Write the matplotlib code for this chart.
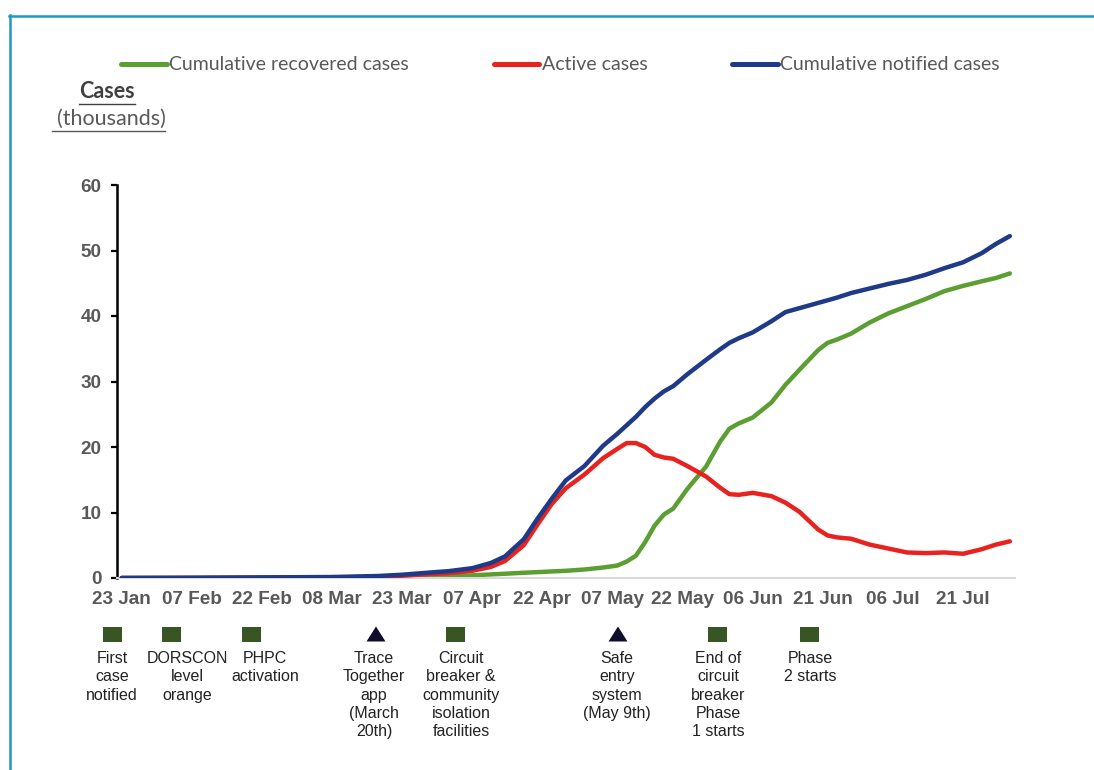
import datetime as dt

import matplotlib
matplotlib.use("Agg")
import matplotlib.pyplot as plt
import matplotlib.dates as mdates
from matplotlib.patches import Rectangle, Polygon
from matplotlib.lines import Line2D

# ---------------------------------------------------------------- data
dates = [
    "2020-01-23", "2020-02-07", "2020-02-22", "2020-03-08", "2020-03-18",
    "2020-03-23", "2020-03-29", "2020-04-02", "2020-04-07", "2020-04-11",
    "2020-04-14", "2020-04-18", "2020-04-21", "2020-04-24", "2020-04-27",
    "2020-05-01", "2020-05-05", "2020-05-08", "2020-05-10", "2020-05-12",
    "2020-05-14", "2020-05-16", "2020-05-18", "2020-05-20", "2020-05-23",
    "2020-05-27", "2020-05-30", "2020-06-01", "2020-06-03", "2020-06-06",
    "2020-06-10", "2020-06-13", "2020-06-16", "2020-06-20", "2020-06-22",
    "2020-06-24", "2020-06-27", "2020-07-01", "2020-07-05", "2020-07-09",
    "2020-07-13", "2020-07-17", "2020-07-21", "2020-07-25", "2020-07-28",
    "2020-07-31",
]

# thousands of cases
recovered = [
    0.0, 0.003, 0.04, 0.08, 0.12, 0.14, 0.2, 0.3, 0.4, 0.55,
    0.65, 0.8, 0.9, 1.0, 1.1, 1.3, 1.6, 1.9, 2.5, 3.4,
    5.5, 8.0, 9.7, 10.6, 13.6, 17.0, 20.8, 22.8, 23.6, 24.5,
    26.8, 29.5, 31.8, 34.8, 35.9, 36.4, 37.3, 39.0, 40.4, 41.5,
    42.6, 43.8, 44.6, 45.3, 45.8, 46.5,
]
active = [
    0.001, 0.02, 0.05, 0.07, 0.18, 0.35, 0.6, 0.75, 1.1, 1.7,
    2.6, 5.0, 8.2, 11.3, 13.7, 15.8, 18.3, 19.7, 20.6, 20.6,
    20.0, 18.8, 18.4, 18.2, 17.1, 15.5, 13.8, 12.8, 12.7, 13.0,
    12.5, 11.5, 10.1, 7.4, 6.5, 6.2, 6.0, 5.1, 4.5, 3.9,
    3.8, 3.9, 3.7, 4.4, 5.1, 5.6,
]
notified = [
    0.001, 0.03, 0.09, 0.15, 0.31, 0.5, 0.84, 1.05, 1.5, 2.3,
    3.3, 5.9, 9.1, 12.1, 14.9, 17.1, 20.2, 22.0, 23.3, 24.6,
    26.1, 27.4, 28.5, 29.3, 31.1, 33.3, 34.9, 35.9, 36.6, 37.5,
    39.2, 40.6, 41.2, 42.0, 42.4, 42.8, 43.5, 44.2, 44.9, 45.5,
    46.3, 47.3, 48.2, 49.6, 51.0, 52.2,
]

tick_dates = [
    "2020-01-23", "2020-02-07", "2020-02-22", "2020-03-08", "2020-03-23",
    "2020-04-07", "2020-04-22", "2020-05-07", "2020-05-22", "2020-06-06",
    "2020-06-21", "2020-07-06", "2020-07-21",
]
tick_labels = [
    "23 Jan", "07 Feb", "22 Feb", "08 Mar", "23 Mar", "07 Apr", "22 Apr",
    "07 May", "22 May", "06 Jun", "21 Jun", "06 Jul", "21 Jul",
]

series_names = ["Cumulative recovered cases", "Active cases",
                "Cumulative notified cases"]

event_labels = [
    "First\ncase\nnotified",
    "DORSCON\nlevel\norange",
    "PHPC\nactivation",
    "Trace\nTogether\napp\n(March\n20th)",
    "Circuit\nbreaker &\ncommunity\nisolation\nfacilities",
    "Safe\nentry\nsystem\n(May 9th)",
    "End of\ncircuit\nbreaker\nPhase\n1 starts",
    "Phase\n2 starts",
]
event_kinds = ["square", "square", "square", "triangle", "square",
               "triangle", "square", "square"]

# ---------------------------------------------------------------- layout
W, H = 1094, 770
fig = plt.figure(figsize=(W / 100, H / 100), dpi=100)
fig.patch.set_facecolor("white")


def fx(px):
    return px / W


def fy(py):
    return 1 - py / H


ARIAL = "Liberation Sans"
CALIBRI = "Lato"
GREY_TXT = "#595959"

ax = fig.add_axes([fx(117), fy(578), fx(1015) - fx(117), fy(185) - fy(578)])

x = [mdates.date2num(dt.datetime.strptime(d, "%Y-%m-%d")) for d in dates]
colors = ["#5B9E32", "#E8221E", "#1F3A86"]
for vals, col, name, z in zip([recovered, active, notified], colors,
                              series_names, [2, 3, 4]):
    ax.plot(x, vals, color=col, lw=3.2, label=name, zorder=z,
            solid_capstyle="round", solid_joinstyle="round")

start = mdates.date2num(dt.datetime(2020, 1, 23))
ax.set_xlim(start - 1.0, start + 191.1)
ax.set_ylim(0, 60)

ax.set_xticks([mdates.date2num(dt.datetime.strptime(d, "%Y-%m-%d"))
               for d in tick_dates])
ax.set_xticklabels(tick_labels)
ax.set_yticks(range(0, 61, 10))

for lab in ax.get_xticklabels() + ax.get_yticklabels():
    lab.set_fontfamily(ARIAL)
    lab.set_fontweight("bold")
    lab.set_color(GREY_TXT)
    lab.set_fontsize(13.6)

ax.tick_params(axis="x", length=0, pad=9)
ax.tick_params(axis="y", direction="out", length=4, width=1.6,
               color="black", pad=7)

for side in ("top", "right"):
    ax.spines[side].set_visible(False)
ax.spines["left"].set_color("black")
ax.spines["left"].set_linewidth(1.8)
ax.spines["bottom"].set_color("#D9D9D9")
ax.spines["bottom"].set_linewidth(1.5)
ax.set_facecolor("none")

# legend across the top
handles, labels = ax.get_legend_handles_labels()
leg = fig.legend(handles, labels, loc="center left",
                 bbox_to_anchor=(fx(121), fy(65)), ncol=3, frameon=False,
                 prop={"family": CALIBRI, "size": 14.0},
                 handlelength=2.35, handletextpad=0.13, columnspacing=4.35,
                 borderpad=0, borderaxespad=0)
for t in leg.get_texts():
    t.set_color(GREY_TXT)
for h in leg.get_lines():
    h.set_linewidth(3.6)
    h.set_solid_capstyle("round")

# axis title with underlines
t_cases = fig.text(fx(107), fy(92), "Cases", family=CALIBRI, weight="bold",
                   size=15.5, color="#404040", ha="center", va="center")
t_thou = fig.text(fx(111), fy(119), "(thousands)", family=CALIBRI,
                  size=15.5, color=GREY_TXT, ha="center", va="center")
fig.canvas.draw()
renderer = fig.canvas.get_renderer()
for t, y_px, extra_left in ((t_cases, 104, 0), (t_thou, 131, 5)):
    bb = t.get_window_extent(renderer)
    x0 = bb.x0 / W - extra_left / W
    x1 = bb.x1 / W
    fig.add_artist(Line2D([x0, x1], [fy(y_px), fy(y_px)],
                          transform=fig.transFigure, color=t.get_color(),
                          lw=1.0))

# event markers and descriptions below the time axis
marker_px = [112, 171, 251, 376, 455, 618, 717, 809]
text_px = [112, 187, 265, 374, 461, 617, 718, 810]
for lab, kind, mx, tx in zip(event_labels, event_kinds, marker_px, text_px):
    if kind == "square":
        fig.add_artist(Rectangle((fx(mx - 9.5), fy(641.5)), 19 / W, 15 / H,
                                 transform=fig.transFigure,
                                 facecolor="#375623", edgecolor="none"))
    else:
        fig.add_artist(Polygon([(fx(mx - 9.5), fy(641.5)),
                                (fx(mx + 9.5), fy(641.5)),
                                (fx(mx), fy(626.5))], closed=True,
                               transform=fig.transFigure,
                               facecolor="#0E0E2C", edgecolor="none"))
    fig.text(fx(tx), fy(651), lab, family=ARIAL, size=11.5,
             color="#222222", ha="center", va="top", linespacing=1.28)

# frame lines along the top and left edges
fig.add_artist(Line2D([fx(9), 1.0], [fy(15.5), fy(15.5)],
                      transform=fig.transFigure, color="#1E98C4", lw=1.8))
fig.add_artist(Line2D([fx(9.5), fx(9.5)], [fy(15), 0.0],
                      transform=fig.transFigure, color="#1E98C4", lw=1.8))

fig.savefig("out.png", dpi=100, facecolor="white")
